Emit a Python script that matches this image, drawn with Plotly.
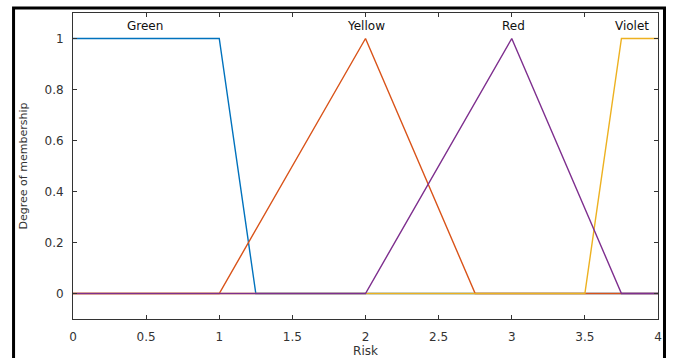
import plotly.graph_objects as go

# Membership functions (breakpoints)
x_green = [0, 1, 1.25, 4]
y_green = [1, 1, 0, 0]
x_yellow = [0, 1, 2, 2.75, 4]
y_yellow = [0, 0, 1, 0, 0]
x_red = [0, 2, 3, 3.75, 4]
y_red = [0, 0, 1, 0, 0]
x_violet = [0, 3.5, 3.75, 4]
y_violet = [0, 0, 1, 1]

mf_names = ["Green", "Yellow", "Red", "Violet"]
label_x = [0.49, 2.0, 3.01, 3.82]
label_y = 1.05

x_ticks = [0, 0.5, 1, 1.5, 2, 2.5, 3, 3.5, 4]
x_ticklabels = ["0", "0.5", "1", "1.5", "2", "2.5", "3", "3.5", "4"]
y_ticks = [0, 0.2, 0.4, 0.6, 0.8, 1]
y_ticklabels = ["0", "0.2", "0.4", "0.6", "0.8", "1"]

FONT = "DejaVu Sans, Liberation Sans, Arial, sans-serif"
AX = "#333333"

fig = go.Figure()
series = [
    (x_green, y_green, "#0072BD"),
    (x_yellow, y_yellow, "#D95319"),
    (x_violet, y_violet, "#EDB120"),
    (x_red, y_red, "#7E2F8E"),
]
for xs, ys, c in series:
    fig.add_trace(go.Scatter(x=xs, y=ys, mode="lines",
                             line=dict(color=c, width=1.4),
                             showlegend=False, hoverinfo="skip"))

for name, lx in zip(mf_names, label_x):
    fig.add_annotation(x=lx, y=label_y, xref="x", yref="y", text=name,
                       showarrow=False, font=dict(family=FONT, size=12, color="#111111"),
                       xanchor="center", yanchor="middle")

W, H = 674, 358
ml, mr, mt, mb = 72.5, 16, 13, 39
pw = W - ml - mr
ph = H - mt - mb

def px_x(p):
    return (p - ml) / pw

def px_y(p):
    return (H - mb - p) / ph

# outer black frame
fig.add_shape(type="rect", xref="paper", yref="paper",
              x0=px_x(13), x1=px_x(664.5), y0=px_y(380), y1=px_y(8),
              line=dict(color="black", width=3), fillcolor="rgba(0,0,0,0)",
              layer="above")

axis_common = dict(
    showline=True, linecolor=AX, linewidth=1, mirror="ticks",
    ticks="inside", ticklen=4, tickcolor=AX, tickwidth=1,
    showgrid=False, zeroline=False,
    tickfont=dict(family=FONT, size=12, color=AX),
)

fig.update_layout(
    width=W, height=H,
    margin=dict(l=ml, r=mr, t=mt, b=mb, autoexpand=False),
    paper_bgcolor="white", plot_bgcolor="white",
    xaxis=dict(range=[0, 4], tickvals=x_ticks, ticktext=x_ticklabels,
               ticklabelstandoff=7,
               title=dict(text="Risk", font=dict(family=FONT, size=12, color=AX), standoff=3),
               **axis_common),
    yaxis=dict(range=[-0.1, 1.1], tickvals=y_ticks, ticktext=y_ticklabels,
               ticklabelstandoff=6,
               title=dict(text="Degree of membership", font=dict(family=FONT, size=11, color=AX), standoff=14),
               **axis_common),
)

fig.write_html("out.html")
